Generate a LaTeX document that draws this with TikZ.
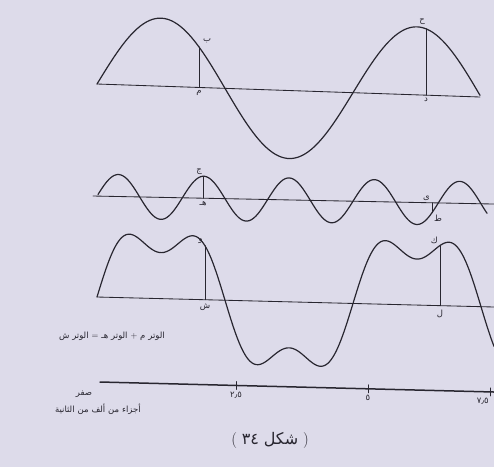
\documentclass[tikz,border=0pt]{standalone}
\usepackage{fontspec}
\newfontfamily\arabicfont[Script=Arabic]{DejaVu Sans}
\definecolor{paper}{RGB}{221,219,234}
\definecolor{ink}{RGB}{40,38,48}
% words are given left to right as they stand on the page
\newcommand{\arw}[1]{{\arabicfont #1}}

\begin{document}
\begin{tikzpicture}[x=1pt,y=-1pt,line cap=round,line join=round,
  every node/.style={inner sep=1pt,text=ink},
  declare function={axa(\x)=84+(\x-97)*0.03394; axb(\x)=196+(\x-93)*0.02;
    axc(\x)=297+(\x-97)*0.02519; fa(\x)=68*sin(1.40625*(\x-97));
    fb(\x)=22*sin(4.21875*(\x-97));},
  lbl/.style={font=\fontsize{8.5}{10}\selectfont},
  note/.style={font=\fontsize{8.5}{10}\selectfont},
  wave/.style={ink,line width=1.2pt},
  baseline/.style={ink,line width=0.85pt}]
  \fill[paper] (0,0) rectangle (494,467);
  \useasboundingbox (0,0) rectangle (494,467);
  % fundamental
  \draw[baseline] (97,{axa(97)}) -- (480,{axa(480)});
  \draw[wave] plot[domain=97:480,samples=160,smooth] (\x,{axa(\x)-fa(\x)});
  \coordinate (mA) at (199,{axa(199)});
  \coordinate (bA) at (199,{axa(199)-fa(199)});
  \coordinate (dA) at (426,{axa(426)});
  \coordinate (hA) at (426,{axa(426)-fa(426)});
  \draw[baseline] (mA) -- (bA);
  \draw[baseline] (hA) -- (dA);
  \node[lbl,above right=3pt] (lb) at (bA) {\arw{ب}};
  \node[lbl,below=2pt] (lm) at (mA) {\arw{م}};
  \node[lbl,above=3pt,xshift=-4pt] (lh) at (hA) {\arw{ح}};
  \node[lbl,below=2pt] (ld) at (dA) {\arw{د}};
  % third harmonic
  \draw[baseline] (93,{axb(93)}) -- (494,{axb(494)});
  \draw[wave] plot[domain=98:487,samples=220,smooth] (\x,{axb(\x)-fb(\x)});
  \coordinate (mB) at (203,{axb(203)});
  \coordinate (bB) at (203,{axb(203)-fb(203)});
  \coordinate (dB) at (432,{axb(432)});
  \coordinate (hB) at (432,{axb(432)-fb(432)});
  \draw[baseline] (mB) -- (bB);
  \draw[baseline] (dB) -- (hB);
  \node[lbl,above left=0pt] (lj) at (bB) {\arw{ج}};
  \node[lbl,below=2pt] (le) at (mB) {\arw{هـ}};
  \node[lbl,above left=1pt] (ly) at (dB) {\arw{ى}};
  \node[lbl,below right=1pt] (lt) at (hB) {\arw{ط}};
  % sum of both
  \draw[baseline] (97,{axc(97)}) -- (494,{axc(494)});
  \draw[wave] plot[domain=97:494,samples=240,smooth] (\x,{axc(\x)-fa(\x)-fb(\x)});
  \coordinate (mC) at (205,{axc(205)});
  \coordinate (bC) at (205,{axc(205)-fa(205)-fb(205)});
  \coordinate (dC) at (440,{axc(440)});
  \coordinate (hC) at (440,{axc(440)-fa(440)-fb(440)});
  \draw[baseline] (mC) -- (bC);
  \draw[baseline] (hC) -- (dC);
  \node[lbl,above left=1pt] (lw) at (bC) {\arw{و}};
  \node[lbl,below=3pt] (ls) at (mC) {\arw{ش}};
  \node[lbl,above left=1pt] (lk) at (hC) {\arw{ك}};
  \node[lbl,below=3pt] (ll) at (dC) {\arw{ل}};
  \node[note,anchor=east] (eqn) at (166,336)
    {\arw{ش} \arw{الوتر} = \arw{هـ} \arw{الوتر} + \arw{م} \arw{الوتر}};
  % time axis
  \coordinate (t0) at (100,382);
  \coordinate (t1) at (494,392);
  \draw[ink,line width=1.5pt] (t0) -- (t1);
  \foreach \tx/\tl/\an in {236/٢٫٥/north,368/٥/north,490/٧٫٥/north east}{
    \coordinate (tk) at (\tx,{382+(\tx-100)*0.02538});
    \draw[ink,line width=0.8pt] ([yshift=4pt]tk) -- ([yshift=-4pt]tk);
    \node[note,anchor=\an,yshift=-5pt] at (tk) {\arw{\tl}};
  }
  \node[note] (zero) at (84,394) {\arw{صفر}};
  \node[note,anchor=east] (unit) at (142,409)
    {\arw{الثانية} \arw{من} \arw{ألف} \arw{من} \arw{أجزاء}};
  \node[font=\fontsize{16}{18}\selectfont] (cap) at (270,440) {( \arw{٣٤} \arw{شكل} )};
\end{tikzpicture}
\end{document}
